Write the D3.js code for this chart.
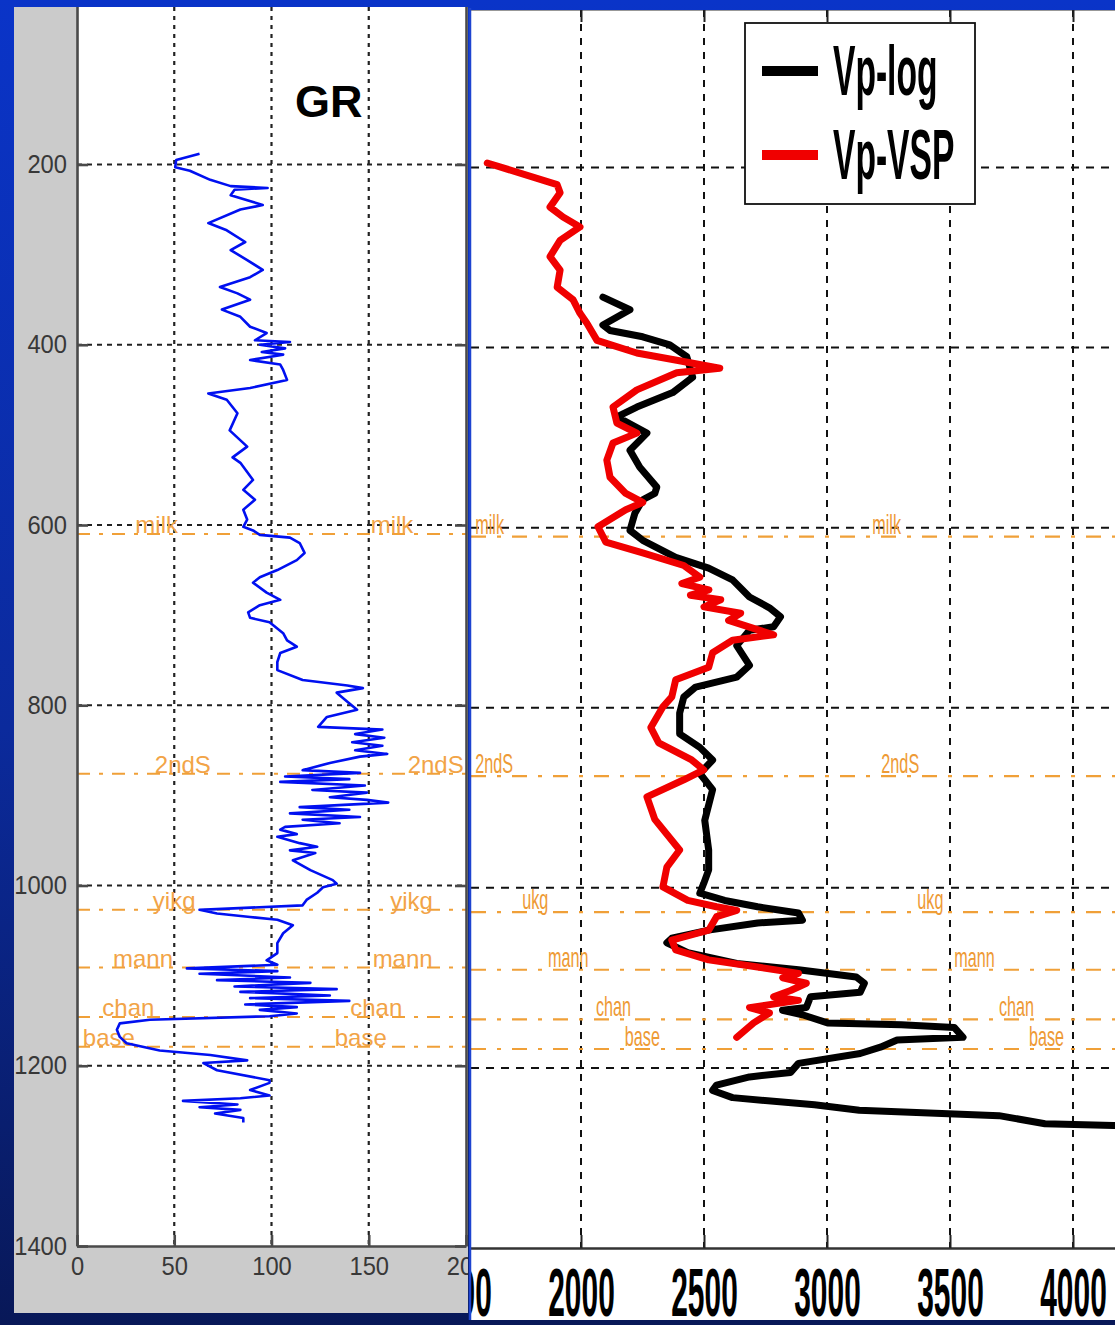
<!DOCTYPE html>
<html>
<head>
<meta charset="utf-8">
<script src="https://cdn.jsdelivr.net/npm/d3@7"></script>
<style>
  html, body { margin: 0; padding: 0; background: #0a2378; }
  svg { display: block; }
</style>
</head>
<body>
<svg id="chart" width="1115" height="1325"></svg>
<script>
// ---- Well data: depth (m) and log values ----
// Gamma ray, [depth, API]
const grLog = [
  [188,63],[195,51],[203,50.5],[207,58],[217,68.5],[224,79],[226,98],[228,81],[234,79],[245,95.5],
  [250,84],[265,67.5],[273,77],[286,86.5],[295,79],[306,87.5],[317,95.5],[325,89],[336,73.5],[343,82.5],
  [350,89],[361,74.5],[369,84],[380,89],[387,97.5],[395,91.5],[397,109.5],[400,94],[404,107],[408,95],
  [411,106],[417,89],[422,104.5],[428,106],[439,108],[448,89],[454,67.5],[461,77],[476,82.5],[495,78.5],
  [513,87.5],[525,80],[531,84],[550,90.5],[561,85.5],[572,91.5],[583,85.5],[594,87.5],[602,85.5],[606,90.5],
  [611,94],[614,109.5],[620,114.5],[631,117],[639,113],[650,103],[658,94],[664,90.5],[675,97.5],[683,104.5],
  [689,94],[697,88],[703,89],[708,99],[720,106],[728,108],[735,113],[742,104.5],[752,103],[761,103],
  [772,116],[778,139],[781,147],[786,133.5],[796,139],[805,144],[813,128.5],[824,124],[827,157],[832,143],
  [836,158],[841,141.5],[845,157],[850,143],[854,159.5],[857,145.5],[864,130],[872,116],[875,145.5],[879,107],
  [882,140],[885,104.5],[889,148],[894,121],[897,149],[902,130],[905,149],[908,160],[913,114.5],[916,140],
  [920,109.5],[924,145.5],[927,116],[931,135],[935,107],[938,104.5],[943,113],[946,103],[953,114.5],[957,123.5],
  [961,109.5],[964,122.5],[972,111],[983,120],[994,131.5],[998,133.5],[1002,126.5],[1008,123.5],[1016,118],[1022,116],
  [1027,63],[1031,72],[1035,89],[1038,103],[1044,111],[1053,106],[1064,103],[1075,103],[1083,97.5],[1088,103],
  [1092,56.5],[1095,103],[1098,63],[1102,109.5],[1105,72],[1108,120],[1112,81],[1115,133.5],[1118,84],[1122,130],
  [1125,89],[1128,140],[1132,86.5],[1135,113],[1138,94],[1142,113],[1145,99],[1149,37.5],[1153,22],[1160,20.5],
  [1168,22],[1175,25.5],[1183,42.5],[1188,68.5],[1194,87.5],[1197,65],[1205,72],[1216,99],[1219,99],[1227,89],
  [1233,99],[1236,84],[1239,54.5],[1243,82.5],[1246,63],[1249,84],[1253,71],[1258,85.5],[1263,85.5]
];

// Sonic P-velocity, [depth, m/s]
const vpLog = [
  [344,2089],[358,2199],[375,2089],[381,2118],[388,2251],[397,2361],[410,2430],[433,2454],[450,2373],[466,2227],
  [477,2146],[495,2268],[514,2199],[533,2239],[555,2308],[562,2300],[569,2251],[584,2219],[603,2199],[614,2251],
  [633,2385],[645,2519],[658,2616],[677,2685],[689,2766],[699,2811],[710,2783],[714,2685],[731,2633],[753,2685],
  [766,2633],[777,2466],[788,2418],[806,2401],[829,2401],[844,2483],[858,2535],[873,2483],[891,2535],[925,2503],
  [958,2519],[980,2519],[995,2499],[1006,2483],[1014,2584],[1021,2718],[1028,2884],[1036,2900],[1039,2718],[1047,2519],
  [1056,2369],[1061,2349],[1072,2434],[1084,2633],[1091,2884],[1099,3119],[1106,3152],[1116,3135],[1121,2933],[1133,2916],
  [1136,2819],[1141,2900],[1150,3002],[1152,3302],[1155,3517],[1166,3553],[1169,3285],[1177,3217],[1184,3135],[1195,2884],
  [1205,2852],[1210,2685],[1219,2551],[1225,2535],[1233,2616],[1241,2949],[1247,3131],[1253,3699],[1262,3886],[1264,4165],
  [1265,4250]
];

// VSP-derived P-velocity, [depth, m/s]
const vpVsp = [
  [195,1619],[219,1903],[228,1915],[244,1874],[255,1927],[266,1996],[281,1915],[299,1874],[314,1915],[333,1903],
  [347,1968],[362,1996],[373,2024],[392,2065],[406,2227],[414,2389],[423,2564],[428,2389],[447,2227],[466,2130],
  [484,2146],[495,2227],[506,2130],[525,2105],[544,2118],[562,2182],[572,2251],[580,2182],[599,2069],[616,2101],
  [628,2251],[642,2418],[655,2483],[662,2410],[669,2520],[675,2445],[680,2568],[688,2500],[695,2649],[703,2600],
  [719,2783],[725,2616],[739,2535],[755,2519],[769,2385],[788,2369],[799,2333],[822,2284],[839,2316],[858,2450],
  [869,2499],[880,2418],[899,2268],[924,2300],[958,2401],[977,2349],[999,2333],[1014,2434],[1021,2551],[1025,2633],
  [1032,2551],[1047,2519],[1058,2369],[1069,2385],[1080,2519],[1088,2718],[1095,2884],[1100,2820],[1106,2916],[1114,2852],
  [1121,2783],[1125,2884],[1133,2685],[1139,2766],[1150,2702],[1166,2633]
];

// Formation tops
const formationNames   = ["milk", "2ndS", "yikg", "mann", "chan", "base"];
const formationNamesVp = ["milk", "2ndS", "ukg",  "mann", "chan", "base"];
const formationDepths  = [610, 876, 1027, 1091, 1146, 1179];
// where the two rows of top labels sit along each track's value axis
const grLabelA = [30, 40, 39, 18.5, 13, 3];
const grLabelB = [151, 170, 161, 152, 140.5, 132.5];
const vpLabelA = [1570, 1570, 1761, 1866, 2061, 2178];
const vpLabelB = [3184, 3221, 3367, 3517, 3699, 3821];

// Axis ticks
const depthTicks = [200, 400, 600, 800, 1000, 1200, 1400];
const grTicks = [0, 50, 100, 150, 200];
const vpTicks = [1500, 2000, 2500, 3000, 3500, 4000];

const legendLabels = ["Vp-log", "Vp-VSP"];
const legendColors = ["#000000", "#f00000"];

// ---- drawing ----
const W = 1115, H = 1325;
const fmt = d3.format("d");
const svg = d3.select("#chart");
const defs = svg.append("defs");

const bg = defs.append("linearGradient").attr("id", "bg")
  .attr("x1", 0).attr("y1", 0).attr("x2", 0).attr("y2", 1);
bg.append("stop").attr("offset", "0%").attr("stop-color", "#0a34c8");
bg.append("stop").attr("offset", "55%").attr("stop-color", "#0b2a9c");
bg.append("stop").attr("offset", "100%").attr("stop-color", "#081858");
svg.append("rect").attr("width", W).attr("height", H).attr("fill", "url(#bg)");

const ORANGE = "#f0a038";
const ORANGE_TXT = "#ee9a35";

// ================= Velocity track =================
const R = { left: 471, right: 1115, top: 10, bottom: 1320, axisY: 1248 };
defs.append("clipPath").attr("id", "clipR").append("rect")
  .attr("x", R.left).attr("y", R.top).attr("width", R.right - R.left).attr("height", R.bottom - R.top);

const kx = (1073 - 581) / 2000;
const xR = d3.scaleLinear().domain([1500, 4400]).range([581 - 500 * kx, 581 + 2400 * kx]);
const kyR = (1248 - 167.5) / 1200;
const yR = d3.scaleLinear().domain([0, 1400]).range([167.5 - 200 * kyR, 1248]);

const gR = svg.append("g").attr("clip-path", "url(#clipR)");
gR.append("rect").attr("x", R.left).attr("y", R.top)
  .attr("width", R.right - R.left).attr("height", R.bottom - R.top).attr("fill", "#ffffff");

// grid
gR.append("g").selectAll("line").data(vpTicks).join("line")
  .attr("x1", d => xR(d)).attr("x2", d => xR(d))
  .attr("y1", R.top).attr("y2", R.axisY)
  .attr("stroke", "#111").attr("stroke-width", 2).attr("stroke-dasharray", "7,7");
gR.append("g").selectAll("line").data(depthTicks.filter(d => d < 1400)).join("line")
  .attr("x1", R.left).attr("x2", R.right)
  .attr("y1", d => yR(d)).attr("y2", d => yR(d))
  .attr("stroke", "#111").attr("stroke-width", 2).attr("stroke-dasharray", "8,7");

// formation tops
gR.append("g").selectAll("line").data(formationDepths).join("line")
  .attr("x1", R.left).attr("x2", R.right)
  .attr("y1", d => yR(d)).attr("y2", d => yR(d))
  .attr("stroke", ORANGE).attr("stroke-width", 2.2).attr("stroke-dasharray", "15,11,4,11");
const vpLabelRows = [vpLabelA, vpLabelB];
vpLabelRows.forEach(row => {
  gR.append("g").selectAll("text").data(formationNamesVp).join("text")
    .attr("transform", (d, i) => `translate(${xR(row[i])},${yR(formationDepths[i]) - 3}) scale(0.6,1)`)
    .attr("font-family", "Liberation Sans, Arial, sans-serif")
    .attr("font-size", 27).attr("fill", ORANGE_TXT)
    .text(d => d);
});

// velocity curves
const lineR = d3.line().x(d => xR(d[1])).y(d => yR(d[0]));
gR.append("path").datum(vpLog).attr("d", lineR)
  .attr("fill", "none").attr("stroke", legendColors[0]).attr("stroke-width", 7)
  .attr("stroke-linejoin", "round").attr("stroke-linecap", "round");
gR.append("path").datum(vpVsp).attr("d", lineR)
  .attr("fill", "none").attr("stroke", legendColors[1]).attr("stroke-width", 7)
  .attr("stroke-linejoin", "round").attr("stroke-linecap", "round");

// axes
const axRB = d3.axisBottom(xR).tickValues(vpTicks).tickFormat(fmt)
  .tickSizeInner(-13).tickSizeOuter(0).tickPadding(20);
const gAxRB = gR.append("g").attr("transform", `translate(0,${R.axisY})`).call(axRB);
gAxRB.select(".domain").attr("stroke", "#333").attr("stroke-width", 2.5);
gAxRB.selectAll(".tick line").attr("stroke", "#222").attr("stroke-width", 2);
gAxRB.selectAll(".tick text")
  .attr("font-family", "Liberation Sans, Arial, sans-serif")
  .attr("font-weight", "bold").attr("font-size", 68).attr("fill", "#000")
  .attr("transform", "scale(0.44,1)");

const axRT = d3.axisTop(xR).tickValues(vpTicks).tickSizeInner(-13).tickSizeOuter(0).tickFormat("");
const gAxRT = gR.append("g").attr("transform", `translate(0,${R.top - 1})`).call(axRT);
gAxRT.select(".domain").attr("stroke", "#333").attr("stroke-width", 2);
gAxRT.selectAll(".tick line").attr("stroke", "#222").attr("stroke-width", 2);

// legend
const lg = svg.append("g");
lg.append("rect").attr("x", 745).attr("y", 23).attr("width", 230).attr("height", 181)
  .attr("fill", "#fff").attr("stroke", "#111").attr("stroke-width", 1.8);
const legendRowsY = [71, 155];
lg.selectAll("line.key").data(legendLabels).join("line").attr("class", "key")
  .attr("x1", 762).attr("x2", 818)
  .attr("y1", (d, i) => legendRowsY[i]).attr("y2", (d, i) => legendRowsY[i])
  .attr("stroke", (d, i) => legendColors[i]).attr("stroke-width", 10);
lg.selectAll("text").data(legendLabels).join("text")
  .attr("transform", (d, i) => `translate(833,${legendRowsY[i] + 24}) scale(0.48,1)`)
  .attr("font-family", "Liberation Sans, Arial, sans-serif")
  .attr("font-weight", "bold").attr("font-size", 70).attr("fill", "#000")
  .text(d => d);

// thin frame line along the velocity track's left edge
svg.append("line").attr("x1", 470).attr("x2", 470).attr("y1", 8).attr("y2", 1320)
  .attr("stroke", "#1d44d0").attr("stroke-width", 2.5);

// ================= Gamma-ray track =================
const L = { left: 14, right: 468, top: 7, bottom: 1313, plotL: 77, plotR: 466, axisY: 1246 };
defs.append("clipPath").attr("id", "clipL").append("rect")
  .attr("x", L.left).attr("y", L.top).attr("width", L.right - L.left).attr("height", L.bottom - L.top);
defs.append("clipPath").attr("id", "clipLplot").append("rect")
  .attr("x", L.plotL).attr("y", L.top).attr("width", L.plotR - L.plotL).attr("height", L.axisY - L.top);

const xL = d3.scaleLinear().domain([0, 200]).range([L.plotL, L.plotR]);
const kyL = (1246 - 164.5) / 1200;
const yL = d3.scaleLinear().domain([0, 1400]).range([164.5 - 200 * kyL, 1246]);

const gL = svg.append("g").attr("clip-path", "url(#clipL)");
gL.append("rect").attr("x", L.left).attr("y", L.top)
  .attr("width", L.right - L.left).attr("height", L.bottom - L.top).attr("fill", "#cbcbcb");
gL.append("rect").attr("x", L.plotL).attr("y", L.top)
  .attr("width", L.plotR - L.plotL).attr("height", L.axisY - L.top).attr("fill", "#ffffff");

const gLp = gL.append("g").attr("clip-path", "url(#clipLplot)");
gLp.append("g").selectAll("line").data(grTicks.filter(d => d > 0 && d < 200)).join("line")
  .attr("x1", d => xL(d)).attr("x2", d => xL(d))
  .attr("y1", L.top).attr("y2", L.axisY)
  .attr("stroke", "#222").attr("stroke-width", 2.2).attr("stroke-dasharray", "4,5");
gLp.append("g").selectAll("line").data(depthTicks.filter(d => d < 1400)).join("line")
  .attr("x1", L.plotL).attr("x2", L.plotR)
  .attr("y1", d => yL(d)).attr("y2", d => yL(d))
  .attr("stroke", "#222").attr("stroke-width", 2.2).attr("stroke-dasharray", "5,5");

// formation tops
gLp.append("g").selectAll("line").data(formationDepths).join("line")
  .attr("x1", L.plotL).attr("x2", L.plotR)
  .attr("y1", d => yL(d)).attr("y2", d => yL(d))
  .attr("stroke", ORANGE).attr("stroke-width", 2).attr("stroke-dasharray", "13,9,4,9");
[grLabelA, grLabelB].forEach(row => {
  gLp.append("g").selectAll("text").data(formationNames).join("text")
    .attr("x", (d, i) => xL(row[i]))
    .attr("y", (d, i) => yL(formationDepths[i]) - 1)
    .attr("font-family", "Liberation Sans, Arial, sans-serif")
    .attr("font-size", 24).attr("fill", "#f2a447")
    .text(d => d);
});

// gamma-ray curve
const lineL = d3.line().x(d => xL(d[1])).y(d => yL(d[0]));
gLp.append("path").datum(grLog).attr("d", lineL)
  .attr("fill", "none").attr("stroke", "#0010f0").attr("stroke-width", 2.6)
  .attr("stroke-linejoin", "round");

// title
gLp.append("text").attr("x", 295).attr("y", 117)
  .attr("font-family", "Liberation Sans, Arial, sans-serif")
  .attr("font-weight", "bold").attr("font-size", 45).attr("fill", "#000")
  .text("GR");

// axes
const AX_COLOR = "#4a4a4a";
const TXT_COLOR = "#383838";
const axLL = d3.axisLeft(yL).tickValues(depthTicks).tickFormat(fmt)
  .tickSizeInner(-11).tickSizeOuter(0).tickPadding(10);
const gAxLL = gL.append("g").attr("transform", `translate(${L.plotL},0)`).call(axLL);
const axLR = d3.axisRight(yL).tickValues(depthTicks).tickSizeInner(-11).tickSizeOuter(0).tickFormat("");
const gAxLR = gL.append("g").attr("transform", `translate(${L.plotR},0)`).call(axLR);
const axLB = d3.axisBottom(xL).tickValues(grTicks).tickFormat(fmt)
  .tickSizeInner(-11).tickSizeOuter(0).tickPadding(11);
const gAxLB = gL.append("g").attr("transform", `translate(0,${L.axisY})`).call(axLB);

[gAxLL, gAxLR, gAxLB].forEach(g => {
  g.select(".domain").attr("stroke", AX_COLOR).attr("stroke-width", 2.6);
  g.selectAll(".tick line").attr("stroke", AX_COLOR).attr("stroke-width", 2.6);
  g.selectAll(".tick text")
    .attr("font-family", "Liberation Sans, Arial, sans-serif")
    .attr("font-size", 25).attr("fill", TXT_COLOR);
});
gAxLL.selectAll(".tick text").attr("x", -10 / 0.95).attr("transform", "scale(0.95,1)");
gAxLB.selectAll(".tick text").attr("transform", "scale(0.95,1)");
</script>
</body>
</html>
